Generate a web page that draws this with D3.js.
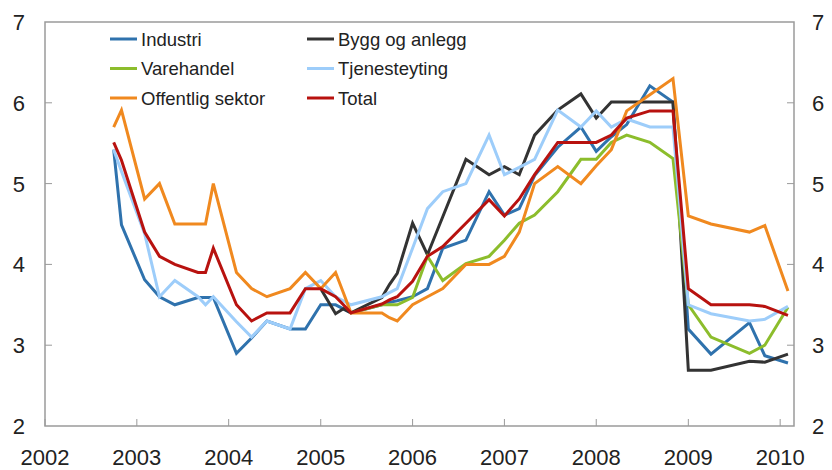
<!DOCTYPE html>
<html>
<head>
<meta charset="utf-8">
<script src="https://cdn.jsdelivr.net/npm/d3@7"></script>
<style>
  body { margin: 0; background: #fff; }
  text { font-family: "Liberation Sans", Arial, sans-serif; fill: #222; }
</style>
</head>
<body>
<script>
// dates of the observations (year-month)
var dates = ["2002-10","2002-11","2003-02","2003-04","2003-06","2003-09","2003-10","2003-11",
  "2004-02","2004-04","2004-06","2004-09","2004-11","2005-01","2005-03","2005-04","2005-05",
  "2005-09","2005-10","2005-11","2006-01","2006-03","2006-05","2006-08","2006-11","2007-01",
  "2007-03","2007-05","2007-08","2007-11","2008-01","2008-03","2008-05","2008-08","2008-11",
  "2009-01","2009-04","2009-09","2009-11","2010-02"];

var industri = [5.42,4.49,3.81,3.60,3.50,3.59,3.59,3.59,2.90,3.09,3.30,3.20,3.20,3.50,3.50,3.45,3.40,
  3.50,3.53,3.55,3.60,3.70,4.20,4.30,4.90,4.61,4.69,5.10,5.45,5.70,5.40,5.58,5.73,6.21,6.01,
  3.20,2.89,3.28,2.87,2.78];
var bygg = [null,null,null,null,null,null,null,null,null,null,null,null,null,3.70,3.39,3.45,3.40,
  3.59,3.75,3.89,4.51,4.12,4.59,5.30,5.11,5.21,5.11,5.60,5.91,6.11,5.81,6.01,6.01,6.01,6.01,
  2.69,2.69,2.80,2.79,2.89];
var varehandel = [null,null,null,null,null,null,null,null,null,null,null,null,null,null,null,null,3.40,
  3.50,3.50,3.50,3.59,4.10,3.80,4.01,4.10,4.30,4.51,4.61,4.90,5.30,5.30,5.51,5.60,5.51,5.31,
  3.50,3.10,2.90,3.00,3.47];
var tjenesteyting = [5.42,5.15,4.38,3.60,3.80,3.60,3.50,3.60,3.29,3.10,3.30,3.20,3.70,3.80,3.60,3.55,3.50,
  3.60,3.65,3.70,4.20,4.69,4.90,5.00,5.60,5.11,5.20,5.30,5.91,5.70,5.90,5.70,5.80,5.70,5.70,
  3.50,3.39,3.30,3.32,3.48];
var offentlig = [5.70,5.91,4.81,5.00,4.50,4.50,4.50,5.00,3.90,3.70,3.60,3.70,3.90,3.70,3.90,3.65,3.40,
  3.40,3.34,3.30,3.50,3.60,3.70,4.00,4.00,4.10,4.40,5.00,5.21,5.00,5.22,5.42,5.90,6.10,6.30,
  4.60,4.50,4.40,4.48,3.67];
var total = [5.51,5.29,4.40,4.10,4.00,3.90,3.90,4.20,3.50,3.30,3.40,3.40,3.70,3.70,3.60,3.50,3.40,
  3.51,3.56,3.60,3.79,4.10,4.22,4.51,4.80,4.60,4.81,5.11,5.51,5.51,5.51,5.60,5.81,5.90,5.90,
  3.70,3.50,3.50,3.48,3.37];

var seriesNames = ["Industri","Bygg og anlegg","Varehandel","Tjenesteyting","Offentlig sektor","Total"];
var seriesColors = ["#2f72ad","#333333","#8cbd2c","#9dcdfa","#f0891f","#b8120f"];
var seriesValues = [industri, bygg, varehandel, tjenesteyting, offentlig, total];

var yTicks = [2,3,4,5,6,7];
var xTickYears = [2002,2003,2004,2005,2006,2007,2008,2009,2010];

var width = 832, height = 470;
var pL = 45, pR = 794, pT = 22, pB = 426;

var parse = d3.timeParse("%Y-%m");

var x = d3.scaleTime()
  .domain([new Date(2002,0,1), new Date(2010,1,25)])
  .range([pL, pR]);
var y = d3.scaleLinear().domain([2,7]).range([pB, pT]);

var svg = d3.select("body").append("svg")
  .attr("width", width)
  .attr("height", height);

// frame
svg.append("rect")
  .attr("x", pL).attr("y", pT)
  .attr("width", pR-pL).attr("height", pB-pT)
  .attr("fill", "none").attr("stroke", "#9a9a9a").attr("stroke-width", 1.5);

// x ticks (inside) and labels
var xt = xTickYears.map(function(yr){ return new Date(yr,0,1); });
svg.append("g").selectAll("line").data(xt).enter().append("line")
  .attr("x1", x).attr("x2", x)
  .attr("y1", pB).attr("y2", pB-7)
  .attr("stroke", "#9a9a9a").attr("stroke-width", 1);
svg.append("g").selectAll("text").data(xt).enter().append("text")
  .attr("x", x).attr("y", 465)
  .attr("text-anchor", "middle")
  .style("font-size", "22px")
  .text(function(d){ return d.getFullYear(); });

// y ticks on both sides
var yg = svg.append("g");
yg.selectAll("line.l").data(yTicks.slice(1,-1)).enter().append("line")
  .attr("x1", pL).attr("x2", pL+7)
  .attr("y1", y).attr("y2", y)
  .attr("stroke", "#9a9a9a");
yg.selectAll("line.r").data(yTicks.slice(1,-1)).enter().append("line")
  .attr("x1", pR-7).attr("x2", pR)
  .attr("y1", y).attr("y2", y)
  .attr("stroke", "#9a9a9a");
yg.selectAll("text.l").data(yTicks).enter().append("text")
  .attr("x", 25).attr("y", function(d){ return y(d)+8; })
  .attr("text-anchor", "end")
  .style("font-size", "22px")
  .text(function(d){ return d; });
yg.selectAll("text.r").data(yTicks).enter().append("text")
  .attr("x", 812).attr("y", function(d){ return y(d)+8; })
  .attr("text-anchor", "start")
  .style("font-size", "22px")
  .text(function(d){ return d; });

// lines
var line = d3.line()
  .defined(function(d){ return d.v != null; })
  .x(function(d){ return x(d.t); })
  .y(function(d){ return y(d.v); });

seriesValues.forEach(function(vals, i){
  var pts = dates.map(function(s, j){ return {t: parse(s), v: vals[j]}; });
  svg.append("path")
    .datum(pts)
    .attr("fill", "none")
    .attr("stroke", seriesColors[i])
    .attr("stroke-width", 3)
    .attr("stroke-linejoin", "miter")
    .attr("d", line);
});

// legend, two columns
var lg = svg.append("g");
seriesNames.forEach(function(name, i){
  var col = i % 2, row = Math.floor(i/2);
  var lx = col ? 307 : 110, ly = 39 + row*29.5;
  lg.append("line")
    .attr("x1", lx).attr("x2", lx+27)
    .attr("y1", ly).attr("y2", ly)
    .attr("stroke", seriesColors[i]).attr("stroke-width", 3);
  lg.append("text")
    .attr("x", lx+31).attr("y", ly+6.5)
    .style("font-size", "18.5px")
    .text(name);
});
</script>
</body>
</html>
